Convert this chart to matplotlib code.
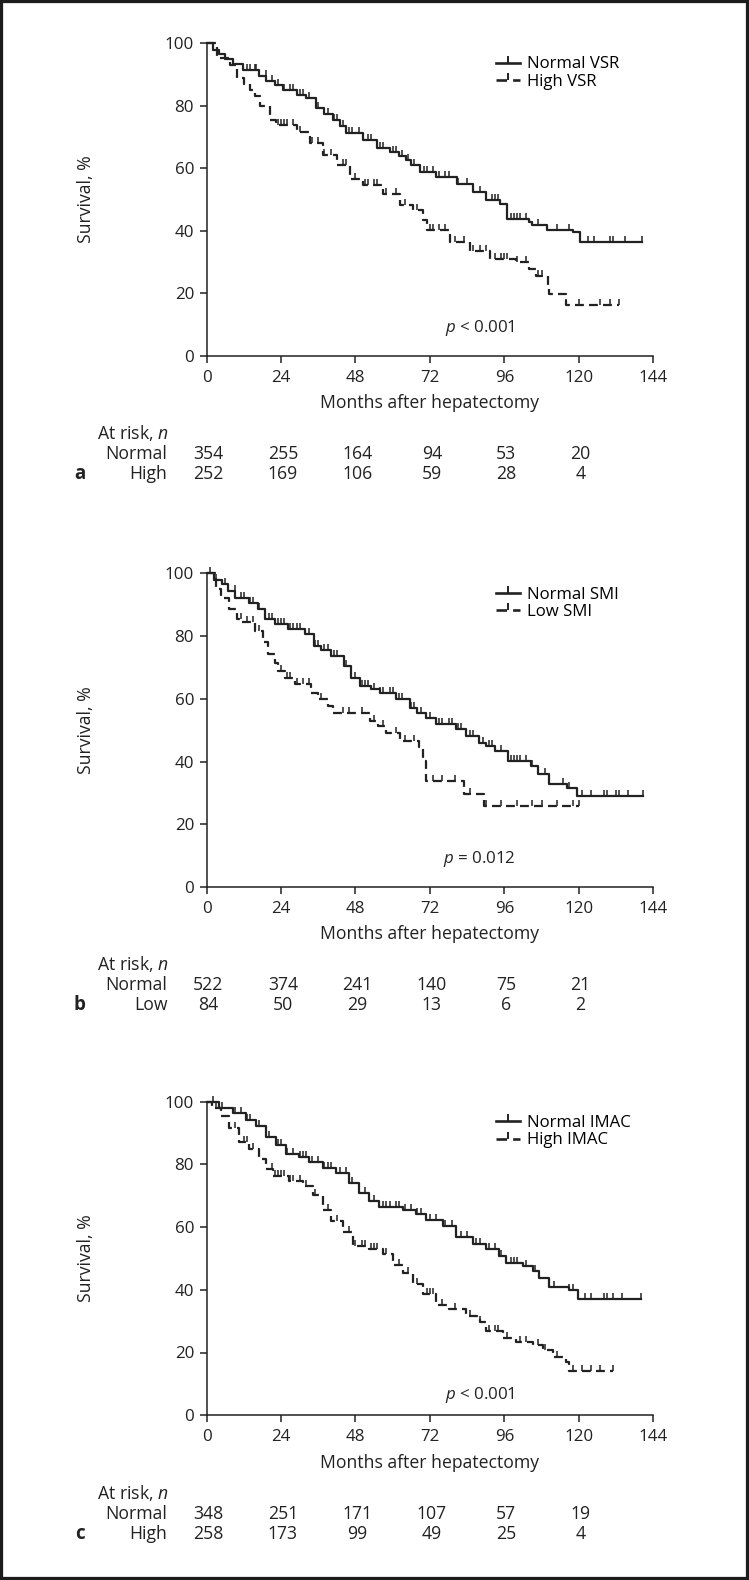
import numpy as np
import matplotlib
matplotlib.use("Agg")
import matplotlib.pyplot as plt
from matplotlib.path import Path
from matplotlib.lines import Line2D
from matplotlib.patches import Rectangle

plt.rcParams['font.family'] = ['Open Sans', 'DejaVu Sans']
plt.rcParams['mathtext.fontset'] = 'custom'
plt.rcParams['mathtext.rm'] = 'Open Sans'
plt.rcParams['mathtext.it'] = 'Open Sans:italic'

# ===== Dati: pannello a (VSR) =====
a_norm_t = [0, 2, 4, 6, 8.6, 11.8, 15, 17, 19.3, 22, 24.7, 29, 32.2, 35.4, 38, 40.8, 43, 45,
            50.5, 54.8, 59, 62, 64.4, 66, 68.7, 74, 80.6, 86, 90.2, 94.5, 96.7, 104, 105,
            109.6, 118, 120.3]
a_norm_s = [100, 98, 96.5, 95, 93.4, 91.6, 91.3, 89.5, 87.9, 86.5, 85.2, 83.6, 82.5, 79.3, 77.5,
            75.5, 73.5, 71.2, 69, 66.4, 65.3, 64, 62.6, 61, 58.9, 57.3, 55.1, 52.4, 49.7, 48.7,
            43.8, 42.7, 41.7, 40.1, 39.5, 36.5]
a_norm_end = 140.5
a_norm_cens = [13, 14, 15.5, 16, 19, 21, 23, 25, 27, 28, 30, 31, 33, 36, 39, 41, 42, 44, 46, 47,
               49, 52, 53, 56, 57, 60, 61, 63, 65, 67, 70, 71, 73, 75, 77, 78, 81, 84, 88, 92,
               93, 94, 98, 99, 100, 101, 103, 107, 113, 117, 123, 125, 130, 131, 135, 140.5]

a_high_t = [0, 3.2, 7.5, 9.7, 12, 14, 15.5, 17.2, 20.4, 22.5, 29, 33.3, 37.6, 42, 46.2, 50.5,
            57, 62.3, 66.6, 69.8, 71, 78.4, 84.8, 91.3, 99.9, 104, 106.2, 110, 110.5, 115.8]
a_high_s = [100, 95.4, 93.2, 89, 87, 85.2, 83, 79.8, 75.5, 73.9, 71.7, 68, 64.2, 61, 56.7, 54.5,
            51.8, 48.1, 46.5, 43.3, 40.1, 36.3, 33.6, 31, 29.9, 27.7, 25.6, 22.4, 19.7, 16.4]
a_high_end = 133
a_high_cens = [23, 24, 25, 26, 28, 30, 34, 36, 38, 40, 44, 45, 48, 51, 52, 54, 55, 58, 61, 64,
               68, 72, 73, 75, 77, 80, 83, 86, 88, 90, 93, 95, 96, 97, 100, 103, 107, 108, 116,
               120, 127, 130, 133]

# ===== Dati: pannello b (SMI) =====
b_norm_t = [0, 2.5, 5.1, 7, 9.3, 13.6, 16.7, 18.9, 22, 26.3, 31.6, 34.7, 37, 40, 44.3, 46.4,
            49.6, 53, 55.9, 61.2, 65.5, 68, 70.8, 73.9, 80.3, 83.5, 87.7, 90, 93, 97.2, 104.7,
            106.8, 110.5, 116.3, 119.5]
b_norm_s = [100, 98, 96.6, 94.5, 92.3, 90.7, 88.6, 85.4, 83.8, 82.2, 80.6, 76.9, 75.5, 73.7,
            70.5, 66.8, 64.1, 63, 62, 59.9, 57.2, 55.5, 54, 51.9, 50.3, 48.1, 46, 44.8, 43.4,
            40.2, 38.6, 35.9, 32.8, 31.7, 29]
b_norm_end = 140.7
b_norm_cens = [1, 3, 6, 9, 11, 12, 14, 15, 17, 20, 21, 23, 24, 25, 27, 28, 29, 30, 33, 35, 36,
               38, 39, 41, 42, 45, 48, 50, 51, 52, 54, 56, 57, 59, 60, 62, 63, 66, 67, 69, 72,
               75, 76, 78, 79, 81, 82, 85, 86, 89, 91, 92, 95, 98, 99, 100, 101, 103, 105, 107,
               109, 115, 117, 121, 124, 128, 129, 132, 133, 136, 140.7]

b_low_t = [0, 3, 4.6, 7.2, 9.9, 11.4, 15.7, 18.3, 19.9, 22, 23.1, 25.2, 28.4, 33.7, 35.8, 39,
           40.6, 52.8, 55.4, 58, 62.3, 68.6, 69.7, 70.8, 83, 89.3]
b_low_s = [100, 95, 92.3, 88.6, 85.4, 84.4, 81.7, 78, 74.3, 71.6, 69, 66.8, 64.7, 62, 59.9, 57.8,
           55.6, 53, 51.4, 49.2, 46.6, 44.5, 40.2, 33.8, 29.6, 25.9]
b_low_end = 120
b_low_cens = [11, 13, 15, 17, 24, 26, 27, 29, 31, 33, 37, 44, 46, 50, 54, 57, 61, 64, 67, 73,
              76, 80, 85, 90, 95, 100, 105, 108, 113, 118, 120]

# ===== Dati: pannello c (IMAC) =====
c_norm_t = [0, 4.1, 8.4, 12.7, 15.9, 19.1, 22.4, 25.6, 29.9, 33.1, 37.4, 41.7, 46, 49.2, 52.5,
            55.7, 63.2, 67.5, 70.8, 76.1, 80.4, 85.8, 90.1, 94.4, 96.6, 101.9, 105.2, 107.3,
            110.5, 116.9, 119.7]
c_norm_s = [100, 98, 96.4, 94.2, 92.1, 88.8, 86.1, 83.4, 82.3, 80.7, 79, 77.4, 74.1, 70.9, 68.2,
            66.5, 65.4, 64.3, 62.2, 60.5, 56.7, 54.6, 52.9, 50.8, 48.6, 47.5, 45.9, 43.7, 41,
            39.9, 37.2]
c_norm_end = 140.1
c_norm_cens = [2, 5, 9, 11, 13, 14, 16, 17, 20, 23, 24, 26, 28, 30, 31, 32, 34, 36, 38, 39, 40,
               43, 45, 47, 51, 54, 57, 58, 59, 61, 62, 64, 66, 68, 69, 72, 74, 77, 79, 82, 84,
               87, 88, 91, 93, 95, 98, 99, 100, 103, 106, 112, 117, 118, 122, 124, 128, 129,
               131, 134, 140.1]

c_high_t = [0, 1.9, 4.6, 7.3, 10.5, 13.8, 17, 19.1, 21.3, 26.7, 31, 34.2, 37.4, 40.1, 43.9,
            47.1, 52.5, 56.8, 60, 63.2, 66.5, 69.7, 74, 78.3, 83.7, 88, 90.1, 95.5, 99.8, 105.2,
            108.4, 111.6, 115.9, 117]
c_high_s = [100, 98, 95.3, 91.5, 87.1, 85, 81.7, 78.5, 76.3, 74.6, 73, 70.3, 65.4, 62.1, 58.3,
            54, 52.9, 51.3, 48, 45.3, 42, 38.8, 35, 33.9, 31.7, 29.6, 26.8, 24.6, 23.5, 22.4,
            20.8, 18.6, 16.9, 14.2]
c_high_end = 131
c_high_cens = [3, 9, 12, 13, 15, 21, 22, 23, 24, 25, 27, 28, 30, 32, 35, 39, 42, 46, 48, 50, 51,
               53, 54, 55, 58, 62, 65, 68, 71, 72, 73, 76, 80, 85, 88, 91, 93, 94, 97, 101, 103,
               107, 109, 113, 118, 121, 124, 127, 131]

# ===== Pazienti a rischio =====
risk_times = [0, 24, 48, 72, 96, 120]
a_risk_norm = [354, 255, 164, 94, 53, 20]
a_risk_high = [252, 169, 106, 59, 28, 4]
b_risk_norm = [522, 374, 241, 140, 75, 21]
b_risk_low = [84, 50, 29, 13, 6, 2]
c_risk_norm = [348, 251, 171, 107, 57, 19]
c_risk_high = [258, 173, 99, 49, 25, 4]

panels = [
    dict(letter='a', labels=('Normal VSR', 'High VSR'), rows=('Normal', 'High'),
         curves=[(a_norm_t, a_norm_s, a_norm_end, a_norm_cens),
                 (a_high_t, a_high_s, a_high_end, a_high_cens)],
         risk=(a_risk_norm, a_risk_high), ptext=r'$p$ < 0.001', p_y=9, top=43.3, bot=355.8),
    dict(letter='b', labels=('Normal SMI', 'Low SMI'), rows=('Normal', 'Low'),
         curves=[(b_norm_t, b_norm_s, b_norm_end, b_norm_cens),
                 (b_low_t, b_low_s, b_low_end, b_low_cens)],
         risk=(b_risk_norm, b_risk_low), ptext=r'$p$ = 0.012', p_y=9, top=573.5, bot=886.9),
    dict(letter='c', labels=('Normal IMAC', 'High IMAC'), rows=('Normal', 'High'),
         curves=[(c_norm_t, c_norm_s, c_norm_end, c_norm_cens),
                 (c_high_t, c_high_s, c_high_end, c_high_cens)],
         risk=(c_risk_norm, c_risk_high), ptext=r'$p$ < 0.001', p_y=6.6, top=1101.7,
         bot=1415.2),
]

# ===== Figura =====
W, H = 749, 1580
fig = plt.figure(figsize=(W / 100, H / 100), dpi=100)
fig.patches.append(Rectangle((0, 0), 1, 1, transform=fig.transFigure, fill=False,
                             edgecolor='#1c1c1c', linewidth=4.5))

x_left, x_right = 206.6, 653.2
col = '#222222'
fs = 12.7
tick_mark = Path([(0, 0), (0, 1)], [Path.MOVETO, Path.LINETO])
styles = [dict(linestyle='-'), dict(linestyle=(0, (4, 2.3)))]

for p in panels:
    ax = fig.add_axes([x_left / W, 1 - p['bot'] / H, (x_right - x_left) / W,
                       (p['bot'] - p['top']) / H])
    hpx = p['bot'] - p['top']

    handles = []
    for (t, s, t_end, cens), st in zip(p['curves'], styles):
        t = np.asarray(t, float)
        s = np.asarray(s, float)
        ax.plot(np.append(t, t_end), np.append(s, s[-1]), drawstyle='steps-post',
                color=col, lw=1.6, clip_on=False, **st)
        c = np.asarray(cens, float)
        cs = s[np.searchsorted(t, c, side='right') - 1]
        ax.plot(c, cs, ls='none', marker=tick_mark, ms=8, mew=1.1, mec=col, clip_on=False)
        handles.append(Line2D([], [], color=col, lw=1.9, marker=tick_mark, ms=10,
                              mew=1.4, mec=col, **st))

    ax.legend(handles, p['labels'], loc='upper left', bbox_to_anchor=(0.63, 0.985),
              frameon=False, fontsize=12.1, handlelength=1.4, handletextpad=0.45,
              labelspacing=0.1, borderpad=0, numpoints=1)

    ax.text(88, p['p_y'], p['ptext'], fontsize=12.2, ha='center', va='center', color=col)

    ax.set_xlim(0, 144)
    ax.set_ylim(0, 100)
    ax.set_xticks(range(0, 145, 24))
    ax.set_yticks(range(0, 101, 20))
    for sp in ('top', 'right'):
        ax.spines[sp].set_visible(False)
    for sp in ('left', 'bottom'):
        ax.spines[sp].set_linewidth(1.1)
        ax.spines[sp].set_color(col)
    ax.tick_params(direction='out', length=5, width=1.1, color=col, labelsize=12.2,
                   labelcolor=col)
    ax.tick_params(axis='x', pad=5)
    ax.tick_params(axis='y', pad=4)

    ax.set_ylabel('Survival, %', fontsize=fs, color=col)
    ax.yaxis.set_label_coords(-0.249, 0.5)
    ax.set_xlabel('Months after hepatectomy', fontsize=fs, color=col)
    ax.xaxis.label.set_va('center')
    ax.xaxis.set_label_coords(0.5, -47.5 / hpx)

    tr = ax.get_xaxis_transform()
    ax.text(-0.246, -77.5 / hpx, r'At risk, $n$', transform=ax.transAxes, fontsize=fs,
            ha='left', va='center', color=col)
    for k, (row_name, vals) in enumerate(zip(p['rows'], p['risk'])):
        y = -(98.5 + 20 * k) / hpx
        ax.text(-0.088, y, row_name, transform=ax.transAxes, fontsize=fs,
                ha='right', va='center', color=col)
        for tx, v in zip(risk_times, vals):
            ax.text(tx + 0.6, y, str(v), transform=tr, fontsize=fs, ha='center',
                    va='center', color=col)
    ax.text(-0.284, -118.5 / hpx, p['letter'], transform=ax.transAxes, fontsize=13.5,
            fontweight='bold', ha='center', va='center', color=col)

fig.savefig('out.png', dpi=100)
